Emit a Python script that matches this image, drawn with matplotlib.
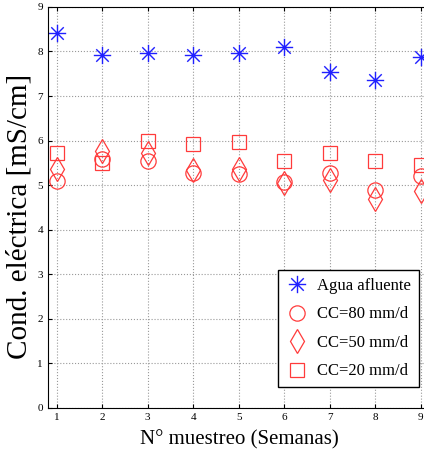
import matplotlib
matplotlib.use("Agg")
import matplotlib.pyplot as plt
from matplotlib.path import Path

# weekly samples
semanas = [1, 2, 3, 4, 5, 6, 7, 8, 9]
agua_afluente = [8.42, 7.93, 7.96, 7.92, 7.96, 8.09, 7.55, 7.36, 7.88]
cc80 = [5.09, 5.59, 5.53, 5.27, 5.25, 5.07, 5.26, 4.90, 5.20]
cc50 = [5.35, 5.76, 5.72, 5.33, 5.35, 5.05, 5.12, 4.68, 4.86]
cc20 = [5.72, 5.50, 6.00, 5.93, 5.96, 5.55, 5.72, 5.53, 5.44]

plt.rcParams['font.family'] = ['Liberation Serif', 'DejaVu Serif']

# matlab style asterisk: + and x on top of each other
d = 0.72
asterisco = Path(
    [(0, -1), (0, 1), (-1, 0), (1, 0), (-d, -d), (d, d), (-d, d), (d, -d)],
    [Path.MOVETO, Path.LINETO] * 4)

fig = plt.figure(figsize=(4.24, 4.63), dpi=100)
ax = fig.add_axes([0.113, 0.1194, 0.901, 0.8656])

red = '#ff3b3b'
ax.plot(semanas, agua_afluente, ls='none', marker=asterisco, ms=12.5, mfc='none',
        mec='#2020ff', mew=1.0, label='Agua afluente')
ax.plot(semanas, agua_afluente, ls='none', marker='.', ms=3, color='#2020ff')
ax.plot(semanas, cc80, ls='none', marker='o', ms=11, mfc='none',
        mec=red, mew=0.9, label='CC=80 mm/d')
ax.plot(semanas, cc50, ls='none', marker='d', ms=12, mfc='none',
        mec=red, mew=0.9, label='CC=50 mm/d')
ax.plot(semanas, cc20, ls='none', marker='s', ms=10, mfc='none',
        mec=red, mew=0.9, label='CC=20 mm/d')

ax.set_xlim(0.81, 9.2)
ax.set_ylim(0, 9)
ax.set_xticks(semanas)
ax.set_yticks(range(0, 10))
ax.tick_params(direction='in', labelsize=8, length=3, top=True, right=True)
ax.grid(True, ls=':', color='#999999', lw=0.8)

ax.set_xlabel('N° muestreo (Semanas)', fontsize=15, labelpad=6)
ax.set_ylabel('Cond. eléctrica [mS/cm]', fontsize=21)
ax.yaxis.set_label_coords(-0.04, 0.478)

leg = ax.legend(loc='lower right', bbox_to_anchor=(0.971, 0.052), borderaxespad=0,
                fontsize=12, fancybox=False, framealpha=1, edgecolor='black',
                handletextpad=0.5, borderpad=0.45, labelspacing=0.75,
                handlelength=1.4)
leg.get_frame().set_linewidth(1.0)

fig.savefig('out.png', dpi=100)
